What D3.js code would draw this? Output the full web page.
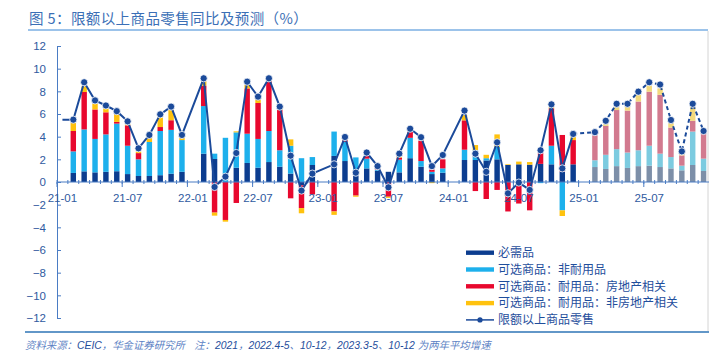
<!DOCTYPE html>
<html><head><meta charset="utf-8">
<script src="https://cdn.jsdelivr.net/npm/d3@7"></script>
<style>body{margin:0;background:#fff}</style>
</head><body><svg id="c" width="723" height="360"></svg>
<script>
const months = ["21-01","21-02","21-03","21-04","21-05","21-06","21-07","21-08","21-09","21-10","21-11","21-12",
"22-01","22-02","22-03","22-04","22-05","22-06","22-07","22-08","22-09","22-10","22-11","22-12",
"23-01","23-02","23-03","23-04","23-05","23-06","23-07","23-08","23-09","23-10","23-11","23-12",
"24-01","24-02","24-03","24-04","24-05","24-06","24-07","24-08","24-09","24-10","24-11","24-12",
"25-01","25-02","25-03","25-04","25-05","25-06","25-07","25-08","25-09","25-10","25-11","25-12"];
// 必需品
const necessities = [null,0.8,0.94,0.85,0.9,0.95,0.7,0.53,0.53,0.6,0.73,0.9,
 null,2.5,2.03,0,1.26,1.68,1.26,1.76,1.35,0.74,-0.3,1.5,
 null,2.3,1.85,0.6,1.2,1.0,0.9,0.85,2.1,1.35,0.7,0.82,
 null,1.94,1.94,1.9,2.0,1.5,1.56,1.53,1.6,1.56,0.9,1.56,
 null,1.32,1.15,1.4,1.24,1.4,1.44,1.32,1.2,1.03,1.5,0.97];
// 可选商品：非耐用品
const nonDurables = [null,1.9,3.7,2.95,3.3,4.2,2.5,1.47,3.0,3.9,3.87,2.8,
 null,4.2,0.47,3.9,3.12,2.58,2.54,2.74,1.45,2.46,2.1,0.7,
 null,2.15,1.7,1.57,0.86,0.1,0,1.12,1.8,0.5,0.2,0.38,
 null,0.91,0.86,0.2,1.1,0,0,0,-0.1,1.64,-2.5,0,
 null,0.6,1.25,1.5,1.36,1.4,1.76,1.18,1.0,0.41,2.95,1.09];
// 可选商品：耐用品：房地产相关
const durablesRealEstate = [null,1.8,3.3,2.6,1.95,0.15,1.8,0.55,0,0.35,0.85,0,
 null,1.8,-2.7,-3.35,-1.85,4.0,3.17,4.4,3.55,-1.44,-2.0,-1.1,
 null,-2.6,0.15,-1.2,0.24,0.1,-1.3,0.18,0.55,1.8,0.2,0.8,
 null,2.59,-0.8,-1.5,-0.7,-2.6,-1.9,-2.5,1.0,3.3,3.25,2.14,
 null,2.2,2.55,3.45,3.7,4.3,4.77,5.2,2.6,0.91,0.95,2.24];
// 可选商品：耐用品：非房地产相关
const durablesOther = [null,0.7,0.5,0.5,0.35,0.7,0.1,0.15,0.35,0.85,0.9,0.2,
 null,0.4,-0.27,-0.15,0.09,0.3,0.33,0.1,0.25,0.56,-0.46,0,
 null,-0.3,0.1,-0.1,0.1,0.05,-0.1,0.15,0,0,-0.1,0,
 null,0.46,0.46,0.3,1.1,0.06,0.24,0.23,0,0.15,-0.5,0.3,
 null,0,0.15,0.25,0.35,0.6,0.53,0.56,0.4,0.12,1.2,0];
// 限额以上商品零售
const retailTotal = [5.5,5.5,8.8,7.2,6.75,6.25,5.35,2.97,4.15,5.97,6.65,4.15,
 null,9.15,-0.44,0.47,2.56,8.85,7.53,9.15,6.65,2.32,-0.76,0.74,
 null,1.56,3.97,0.82,2.6,1.4,-0.47,2.5,4.7,3.95,1.4,2.38,
 null,6.3,2.5,0.9,3.5,-1.0,-0.05,-0.7,2.8,6.85,1.2,4.24,
 null,4.4,5.4,6.9,6.9,7.97,8.8,8.6,5.47,2.7,6.9,4.5];
const forecastFrom = "25-02";
const lastActual = "24-12";
const seriesNames = ["必需品","可选商品：非耐用品","可选商品：耐用品：房地产相关","可选商品：耐用品：非房地产相关"];
const lineName = "限额以上商品零售";
const xTickLabels = ["21-01","21-07","22-01","22-07","23-01","23-07","24-01","24-07","25-01","25-07"];
const yTicks = [-12,-10,-8,-6,-4,-2,0,2,4,6,8,10,12];

const colors = ["#0c3d8f","#1db0ec","#e8082e","#ffc20e"];
const mutedColors = ["#7d8fa8","#7ccbe0","#d27a8f","#f3d97c"];
const axisBlue = "#4a7cc4", textBlue = "#2f5aa0", lineBlue = "#1b4a9a";

const svg = d3.select("#c");
const keys = ["a","b","c","d"];
const rows = months.map((m,i)=>({m, a:necessities[i]||0, b:nonDurables[i]||0, c:durablesRealEstate[i]||0, d:durablesOther[i]||0, f: months.indexOf(m) >= months.indexOf(forecastFrom)}));

const x = d3.scaleBand().domain(months).range([57,709]).paddingInner(0.5).paddingOuter(0.25);
const y = d3.scaleLinear().domain([-12,12]).range([318,46]);
const cx = m => x(m) + x.bandwidth()/2;

// frame
svg.append("text").attr("x",29).attr("y",24).attr("fill","#3b6fb6")
  .attr("font-family","Noto Sans CJK SC").attr("font-size",14.5).attr("letter-spacing",0.4)
  .text("图 5：限额以上商品零售同比及预测（%）");
svg.append("line").attr("x1",28).attr("x2",708).attr("y1",30).attr("y2",30).attr("stroke","#9cc3ea").attr("stroke-width",2);
svg.append("line").attr("x1",708).attr("x2",708).attr("y1",31).attr("y2",331).attr("stroke","#d4d4d4").attr("stroke-width",1);
svg.append("line").attr("x1",25).attr("x2",709).attr("y1",332).attr("y2",332).attr("stroke","#2e75b6").attr("stroke-width",1.5);

// bars
const stacked = d3.stack().keys(keys).offset(d3.stackOffsetDiverging)(rows);
stacked.forEach((s,k)=>{
  svg.append("g").selectAll("rect").data(s.filter(d=>d[1]!==d[0])).join("rect")
    .attr("x",d=>x(d.data.m)).attr("width",x.bandwidth())
    .attr("y",d=>y(Math.max(d[0],d[1]))).attr("height",d=>Math.abs(y(d[0])-y(d[1])))
    .attr("fill",d=>d.data.f?mutedColors[k]:colors[k]);
});

// y axis
const ya = svg.append("g").attr("transform","translate(57,0)")
  .call(d3.axisLeft(y).tickValues(yTicks).tickSizeInner(-4).tickSizeOuter(0).tickPadding(11));
ya.select(".domain").attr("stroke",axisBlue);
ya.selectAll(".tick line").attr("stroke",axisBlue);
ya.selectAll("text").attr("fill",textBlue).attr("font-family","Liberation Sans, Arial").attr("font-size",11.5);

// x axis at zero
const y0 = y(0);
svg.append("line").attr("x1",57).attr("x2",709).attr("y1",y0).attr("y2",y0).attr("stroke",axisBlue).attr("stroke-width",1.2);
const bnd = m => x(m) - x.step()*0.25;
svg.append("g").selectAll("line").data(months).join("line")
  .attr("x1",d=>bnd(d)).attr("x2",d=>bnd(d)).attr("y1",y0-2).attr("y2",y0+2).attr("stroke",axisBlue);
svg.append("g").selectAll("line").data(xTickLabels).join("line")
  .attr("x1",d=>bnd(d)).attr("x2",d=>bnd(d)).attr("y1",y0).attr("y2",y0+5).attr("stroke",axisBlue);
svg.append("g").selectAll("text").data(xTickLabels).join("text")
  .attr("x",d=>cx(d)).attr("y",y0+20).attr("text-anchor","middle")
  .attr("fill",textBlue).attr("font-family","Liberation Sans, Arial").attr("font-size",11.5).text(d=>d);

// line
const pts = months.map((m,i)=>({m,i,v:retailTotal[i]})).filter(d=>d.v!=null);
const iLast = months.indexOf(lastActual);
const lg = d3.line().x(d=>cx(d.m)).y(d=>y(d.v));
svg.append("path").attr("d",lg(pts.filter(d=>d.i<=iLast))).attr("fill","none").attr("stroke",lineBlue).attr("stroke-width",2);
svg.append("path").attr("d",lg(pts.filter(d=>d.i>=iLast))).attr("fill","none").attr("stroke",lineBlue).attr("stroke-width",2).attr("stroke-dasharray","4,3");
svg.append("g").selectAll("circle").data(pts.filter(d=>d.i>0)).join("circle")
  .attr("cx",d=>cx(d.m)).attr("cy",d=>y(d.v)).attr("r",3.6)
  .attr("fill",lineBlue).attr("stroke","#fff").attr("stroke-width",0.8);

// legend
const lgG = svg.append("g");
seriesNames.forEach((n,k)=>{
  const yy = 252.7 + k*16.8;
  lgG.append("rect").attr("x",466).attr("y",yy-2.2).attr("width",28).attr("height",4.4).attr("fill",colors[k]);
  lgG.append("text").attr("x",498).attr("y",yy+4.3).attr("fill","#1f4e9c")
    .attr("font-family","Noto Sans CJK SC").attr("font-size",12).text(n);
});
const yl = 252.7 + 4*16.8;
lgG.append("line").attr("x1",466).attr("x2",494).attr("y1",yl).attr("y2",yl).attr("stroke",lineBlue).attr("stroke-width",1.5);
lgG.append("circle").attr("cx",480).attr("cy",yl).attr("r",2.6).attr("fill",lineBlue);
lgG.append("text").attr("x",498).attr("y",yl+4.3).attr("fill","#1f4e9c")
  .attr("font-family","Noto Sans CJK SC").attr("font-size",12).text(lineName);

// source
const src = svg.append("text").attr("x",25).attr("y",349).attr("font-size",10.4).attr("font-style","italic")
  .attr("font-family","Noto Sans CJK SC");
src.append("tspan").attr("fill","#5c82c4").text("资料来源：");
src.append("tspan").attr("fill","#1f4e9c").attr("font-family","Liberation Sans, Arial").text("CEIC");
src.append("tspan").attr("fill","#5c82c4").text("，华金证券研究所\u00a0\u00a0\u00a0\u00a0注：");
src.append("tspan").attr("fill","#1f4e9c").attr("font-family","Liberation Sans, Arial").text("2021");
src.append("tspan").attr("fill","#5c82c4").text("，");
src.append("tspan").attr("fill","#1f4e9c").attr("font-family","Liberation Sans, Arial").text("2022.4-5");
src.append("tspan").attr("fill","#5c82c4").text("、");
src.append("tspan").attr("fill","#1f4e9c").attr("font-family","Liberation Sans, Arial").text("10-12");
src.append("tspan").attr("fill","#5c82c4").text("，");
src.append("tspan").attr("fill","#1f4e9c").attr("font-family","Liberation Sans, Arial").text("2023.3-5");
src.append("tspan").attr("fill","#5c82c4").text("、");
src.append("tspan").attr("fill","#1f4e9c").attr("font-family","Liberation Sans, Arial").text("10-12\u00a0");
src.append("tspan").attr("fill","#5c82c4").text("为两年平均增速");
</script></body></html>
